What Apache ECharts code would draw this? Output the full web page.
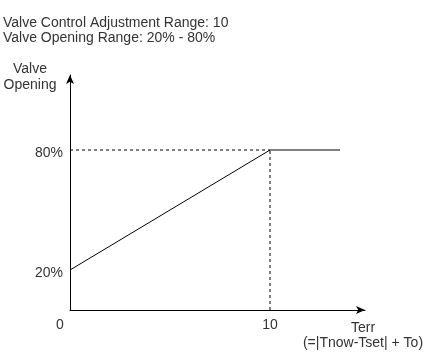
<!DOCTYPE html>
<html>
<head>
<meta charset="utf-8">
<script src="https://cdn.jsdelivr.net/npm/echarts@6/dist/echarts.min.js"></script>
<style>
html,body{margin:0;padding:0;background:#fff;}
#chart{width:430px;height:352px;}
</style>
</head>
<body>
<div id="chart"></div>
<script>
// Data
const titleLines = ['Valve Control Adjustment Range: 10', 'Valve Opening Range: 20% - 80%'];
const xTickValues = [0, 10];
const yTickValues = [20, 80];
const terr = [0, 10, 13.5];
const opening = [20, 80, 80];
const xAxisName = 'Terr\n(=|Tnow-Tset| + To)';
const yAxisName = 'Valve\nOpening';

const FONT = "'Liberation Sans', Arial, Helvetica, sans-serif";
const TXT = '#333';

const mainLine = terr.map((x, i) => [x, opening[i]]);
const guideH = [[0, opening[1]], [terr[1], opening[1]]];
const guideV = [[terr[1], 0], [terr[1], opening[1]]];

const chart = echarts.init(document.getElementById('chart'), null, {renderer: 'canvas'});
chart.setOption({
  backgroundColor: '#fff',
  animation: false,
  textStyle: {fontFamily: FONT},
  title: {
    text: titleLines.join('\n'),
    left: 3, top: 16, padding: 0,
    textStyle: {fontFamily: FONT, fontSize: 14, fontWeight: 'normal', color: TXT, lineHeight: 15}
  },
  grid: {left: 70, top: 75, width: 295, height: 235, containLabel: false},
  xAxis: {
    type: 'value', min: 0, max: 14.75,
    splitLine: {show: false},
    axisTick: {show: false},
    axisLine: {show: true, onZero: false, symbol: ['none', 'arrow'], symbolSize: [6, 9],
      lineStyle: {color: '#000', width: 1}},
    axisLabel: {
      customValues: xTickValues, margin: 8, fontFamily: FONT, fontSize: 14, color: TXT,
      formatter: v => v === 0 ? '{z|0}' : String(v),
      rich: {z: {fontFamily: FONT, fontSize: 14, color: TXT, padding: [0, 20, 0, 0]}}
    },
    name: xAxisName, nameLocation: 'end', nameGap: -2,
    nameTextStyle: {fontFamily: FONT, fontSize: 14, color: TXT, align: 'center', verticalAlign: 'top', lineHeight: 15, padding: [11, 0, 0, 0]}
  },
  yAxis: {
    type: 'value', min: 0, max: 117.5,
    splitLine: {show: false},
    axisTick: {show: false},
    axisLine: {show: true, onZero: false, symbol: ['none', 'arrow'], symbolSize: [6, 9],
      lineStyle: {color: '#000', width: 1}},
    axisLabel: {
      customValues: yTickValues, margin: 7, fontFamily: FONT, fontSize: 14, color: TXT,
      formatter: '{value}%', verticalAlign: 'top', lineHeight: 6
    },
    name: yAxisName, nameLocation: 'end', nameGap: -2,
    nameTextStyle: {fontFamily: FONT, fontSize: 14, color: TXT, align: 'center', verticalAlign: 'middle', lineHeight: 16, padding: [0, 80, 0, 0]}
  },
  series: [
    {type: 'line', data: guideH, symbol: 'none', silent: true,
      lineStyle: {color: '#000', width: 1, type: [3, 3]}},
    {type: 'line', data: guideV, symbol: 'none', silent: true,
      lineStyle: {color: '#000', width: 1, type: [3, 3]}},
    {type: 'line', data: mainLine, symbol: 'none', silent: true,
      lineStyle: {color: '#000', width: 1}}
  ]
});
</script>
</body>
</html>
